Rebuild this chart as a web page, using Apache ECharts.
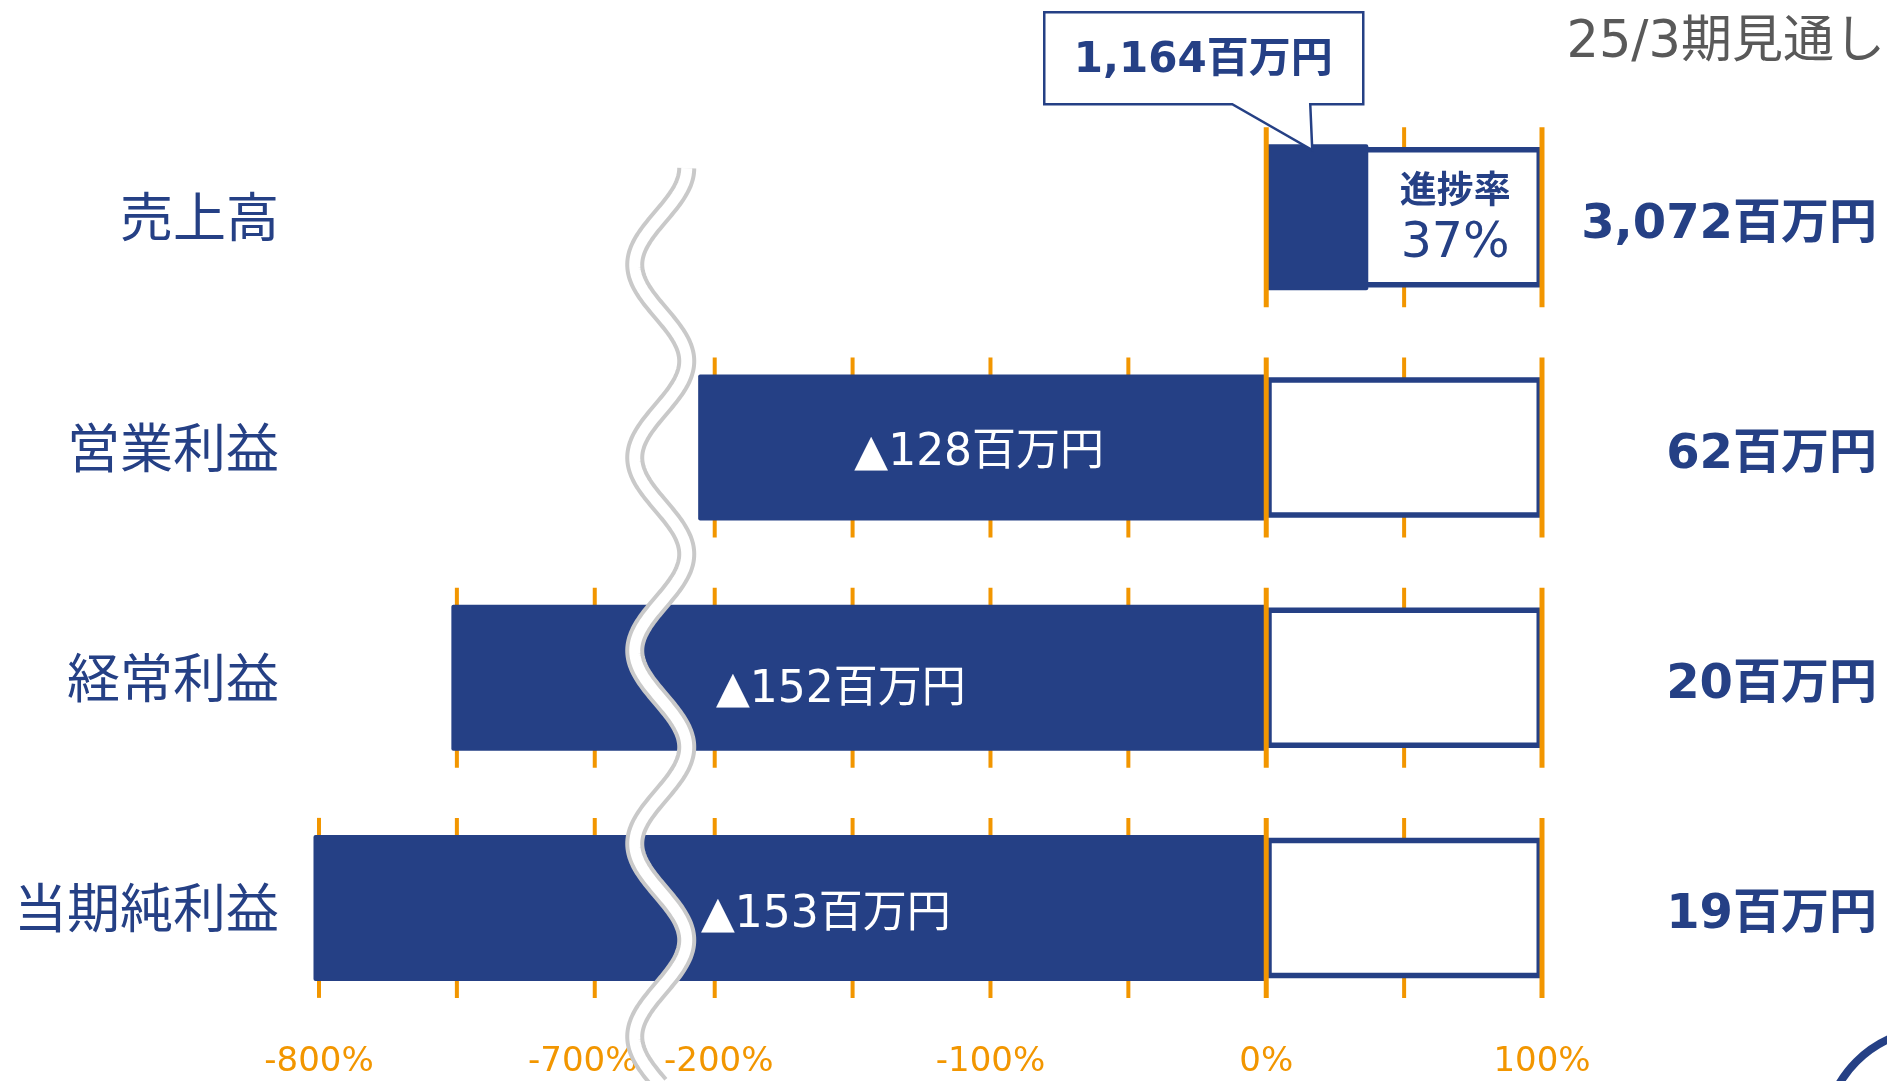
<!DOCTYPE html>
<html lang="ja">
<head>
<meta charset="utf-8">
<title>進捗率</title>
<script src="https://cdn.jsdelivr.net/npm/echarts@6/dist/echarts.min.js"></script>
<style>
  html, body { margin: 0; padding: 0; background: #ffffff; }
  #chart { width: 1887px; height: 1081px; }
</style>
</head>
<body>
<div id="chart"></div>
<script>
// ---- data -------------------------------------------------------------
const categories    = ['売上高', '営業利益', '経常利益', '当期純利益'];
const actuals       = [1164, -128, -152, -153];   // 実績（百万円）
const forecasts     = [3072, 62, 20, 19];         // 25/3期見通し（百万円）
const progressRates = [37, -206, -752, -802];     // 進捗率（%）
const forecastRates = [100, 100, 100, 100];       // 見通し = 100%
const tickLabels    = [-800, -700, -200, -100, 0, 100]; // 軸目盛（%）
const axisRange     = [-800, 100];                // 進捗率軸の範囲（%）
const axisBreak     = { start: -690, end: -210 }; // 省略区間（%）

// ---- styles -----------------------------------------------------------
const BLUE = '#254085';
const ORANGE = '#F29600';
const GREY = '#595959';
const FONT = "'DejaVu Sans', 'Noto Sans CJK JP', sans-serif";
const CJK = "'Noto Sans CJK JP', sans-serif";
const BAR_H = 146;          // bar thickness (px)
const FRAME_BORDER = 5.5;   // frame outline width (px)
const TICK_OUT = 17;        // tick overhang above / below bars (px)
const TICK_STEP = 50;       // minor tick spacing (%)
const WAVE_AMP = 26;
const WAVE_PERIOD = 193;
const LABEL_SHIFT = [[0, 0], [-3, 6], [-18, 13], [36, 8]];

const yen = v => Math.abs(v).toLocaleString('en-US') + '百万円';

const chart = echarts.init(document.getElementById('chart'), null, { renderer: 'canvas' });

// orange ticks along each bar
function renderTicks(params, api) {
  const p = api.value(0), row = api.value(1);
  const cy = api.coord([0, row])[1];
  const half = BAR_H / 2 + TICK_OUT;
  const first = Math.min(0, Math.ceil(p / TICK_STEP) * TICK_STEP);
  const children = [];
  for (let v = first; v < axisRange[1]; v += TICK_STEP) {
    if (v === 0) continue;
    if (v > axisBreak.start && v < axisBreak.end) continue;
    const x = api.coord([v, row])[0];
    children.push({
      type: 'line',
      shape: { x1: x, y1: cy - half, x2: x, y2: cy + half },
      style: { stroke: ORANGE, lineWidth: 4 }
    });
  }
  return { type: 'group', children };
}

// 0% and 100% lines drawn over the bars
function renderEdges(params, api) {
  const row = api.value(1);
  const cy = api.coord([0, row])[1];
  const half = BAR_H / 2 + TICK_OUT;
  return {
    type: 'group',
    children: [0, 100].map(v => {
      const x = api.coord([v, row])[0];
      return {
        type: 'line',
        shape: { x1: x, y1: cy - half, x2: x, y2: cy + half },
        style: { stroke: ORANGE, lineWidth: 5 }
      };
    })
  };
}

// wavy mark for the omitted part of the axis
function renderWave(params, api) {
  const x1 = api.coord([axisBreak.start, 0])[0];
  const x2 = api.coord([axisBreak.end, 0])[0];
  const cx = (x1 + x2) / 2 + 6;
  const yTop = api.coord([0, 0])[1] - 49;
  const yBot = api.getHeight() + 4;
  const pts = [];
  for (let y = yTop; y <= yBot; y += 2) {
    pts.push([cx + WAVE_AMP * Math.cos(2 * Math.PI * (y - yTop) / WAVE_PERIOD), y]);
  }
  return {
    type: 'group',
    children: [
      { type: 'polyline', shape: { points: pts },
        style: { stroke: '#C9C9C9', lineWidth: 19, fill: null, lineCap: 'butt', lineJoin: 'round' } },
      { type: 'polyline', shape: { points: pts },
        style: { stroke: '#ffffff', lineWidth: 11, fill: null, lineCap: 'butt', lineJoin: 'round' } }
    ]
  };
}

// callout with the actual figure, and the progress rate text
function renderNotes(params, api) {
  const p = api.value(0), row = api.value(1);
  const cy = api.coord([0, row])[1];
  const tx = api.coord([p / 2, row])[0] - 5;
  const ty = cy - BAR_H / 2 + 6;
  const L = tx - 268, R = tx + 51, T = ty - 138, B = ty - 46;
  const mid = api.coord([(p + 100) / 2, row])[0];
  return {
    type: 'group',
    children: [
      { type: 'polygon',
        shape: { points: [[L, T], [R, T], [R, B], [tx - 2, B], [tx, ty], [tx - 80, B], [L, B]] },
        style: { fill: '#ffffff', stroke: BLUE, lineWidth: 2.5, lineJoin: 'miter' } },
      { type: 'text',
        style: { text: actuals[row].toLocaleString('en-US') + '百万円', x: tx - 109, y: ty - 89,
                 align: 'center', verticalAlign: 'middle', fill: BLUE,
                 fontSize: 42, fontWeight: 'bold', fontFamily: FONT } },
      { type: 'text',
        style: { text: '進捗率', x: mid, y: cy - 28, align: 'center', verticalAlign: 'middle',
                 fill: BLUE, fontSize: 37, fontWeight: 'bold', fontFamily: CJK } },
      { type: 'text',
        style: { text: Math.floor(p) + '%', x: mid, y: cy + 27, align: 'center', verticalAlign: 'middle',
                 fill: BLUE, fontSize: 49, fontFamily: FONT } }
    ]
  };
}

const rowPoints = progressRates.map((p, i) => [p, i]);

const option = {
  animation: false,
  backgroundColor: '#ffffff',
  title: {
    text: '25/3期見通し',
    right: -3,
    top: 13,
    textStyle: { color: GREY, fontSize: 51, fontWeight: 'normal', fontFamily: FONT }
  },
  grid: { left: 319, right: 345, top: 102, bottom: 58 },
  xAxis: {
    type: 'value',
    min: axisRange[0],
    max: axisRange[1],
    interval: 100,
    breaks: [{ start: axisBreak.start, end: axisBreak.end, gap: 23.5 }],
    breakArea: { show: false },
    axisLine: { show: false },
    axisTick: { show: false },
    splitLine: { show: false },
    axisLabel: {
      customValues: tickLabels,
      color: ORANGE, fontSize: 34, fontFamily: FONT, margin: 22,
      formatter: v => {
        const n = Math.round(v);
        if (n === axisBreak.start - 10) return '{l|' + n + '%}';
        if (n === axisBreak.end + 10) return '{r|' + n + '%}';
        return n + '%';
      },
      rich: {
        l: { color: ORANGE, fontSize: 34, fontFamily: FONT, padding: [0, 24, 0, 0] },
        r: { color: ORANGE, fontSize: 34, fontFamily: FONT, padding: [0, 0, 0, 8] }
      }
    }
  },
  yAxis: [
    {
      type: 'category',
      data: categories,
      inverse: true,
      axisLine: { show: false },
      axisTick: { show: false },
      axisLabel: { color: BLUE, fontSize: 53, fontFamily: CJK, margin: 40 }
    },
    {
      type: 'category',
      position: 'right',
      data: categories,
      inverse: true,
      axisLine: { show: false },
      axisTick: { show: false },
      axisLabel: { show: false }
    }
  ],
  series: [
    {
      type: 'custom',
      name: 'ticks',
      z: 1,
      renderItem: renderTicks,
      encode: { x: 0, y: 1 },
      data: rowPoints,
      silent: true
    },
    {
      type: 'bar',
      name: '見通し',
      yAxisIndex: 1,
      z: 2,
      barWidth: BAR_H - FRAME_BORDER,
      data: forecastRates,
      itemStyle: { color: '#ffffff', borderColor: BLUE, borderWidth: FRAME_BORDER },
      label: {
        show: true,
        position: 'right',
        distance: 335,
        align: 'right',
        offset: [0, 8],
        color: BLUE,
        fontSize: 48,
        fontWeight: 'bold',
        fontFamily: FONT,
        formatter: p => yen(forecasts[p.dataIndex])
      },
      silent: true
    },
    {
      type: 'bar',
      name: '実績',
      yAxisIndex: 0,
      z: 3,
      barWidth: BAR_H,
      clip: false,
      data: progressRates.map((v, i) => ({ value: v, label: { offset: LABEL_SHIFT[i] } })),
      itemStyle: { color: BLUE, borderRadius: 2 },
      label: {
        show: true,
        position: 'inside',
        color: '#ffffff',
        fontSize: 44,
        fontFamily: FONT,
        formatter: p => (actuals[p.dataIndex] < 0 ? '▲' + yen(actuals[p.dataIndex]) : '')
      },
      silent: true
    },
    {
      type: 'custom',
      name: 'edges',
      z: 4,
      renderItem: renderEdges,
      encode: { x: 0, y: 1 },
      data: rowPoints,
      silent: true
    },
    {
      type: 'custom',
      name: 'wave',
      z: 5,
      renderItem: renderWave,
      encode: { x: 0, y: 1 },
      data: [[axisBreak.start, 0]],
      silent: true
    },
    {
      type: 'custom',
      name: 'notes',
      z: 6,
      renderItem: renderNotes,
      encode: { x: 0, y: 1 },
      data: [rowPoints[0]],
      silent: true
    }
  ],
  graphic: [
    {
      type: 'circle',
      shape: { cx: 1935, cy: 1140, r: 111 },
      style: { fill: null, stroke: BLUE, lineWidth: 8 },
      silent: true
    }
  ]
};

chart.setOption(option);
</script>
</body>
</html>
